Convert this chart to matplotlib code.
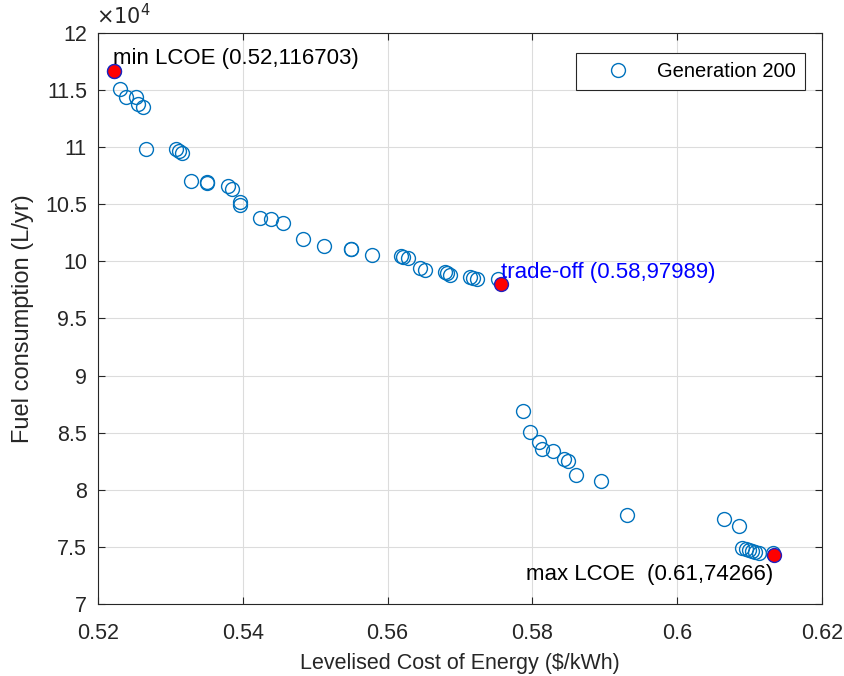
import matplotlib
matplotlib.use('Agg')
import matplotlib.pyplot as plt
from matplotlib.ticker import FuncFormatter

plt.rcParams['font.family'] = ['Liberation Sans', 'DejaVu Sans']

# Generation 200 front (LCOE $/kWh, fuel L/yr)
lcoe = [0.5222, 0.5230, 0.5239, 0.5252, 0.5255, 0.5262, 0.5266, 0.5308, 0.5312, 0.5316,
        0.5328, 0.5350, 0.5351, 0.5379, 0.5385, 0.5396, 0.5396, 0.5424, 0.5439, 0.5456,
        0.5483, 0.5512, 0.5549, 0.5549, 0.5578, 0.5618, 0.5621, 0.5628, 0.5645, 0.5651,
        0.5679, 0.5682, 0.5686, 0.5714, 0.5718, 0.5723, 0.5752,
        0.5787, 0.5797, 0.5809, 0.5813, 0.5828, 0.5843, 0.5849, 0.5860, 0.5895, 0.5930,
        0.6065, 0.6085, 0.6090, 0.6095, 0.6099, 0.6103, 0.6107, 0.6113, 0.6132]
fuel = [116703, 115070, 114420, 114420, 113760, 113490, 109870, 109840, 109690, 109470,
        107070, 106980, 106890, 106630, 106370, 105200, 104940, 103800, 103710, 103390,
        101960, 101350, 101110, 101060, 100560, 100450, 100390, 100270, 99450, 99250,
        99100, 98960, 98810, 98660, 98550, 98490, 98460,
        86900, 85060, 84190, 83570, 83400, 82700, 82550, 81300, 80800, 77770,
        77420, 76860, 74930, 74820, 74730, 74640, 74580, 74490, 74490]

# highlighted solutions
sel_x = [0.5222, 0.5757, 0.6133]
sel_y = [116703, 97989, 74266]
sel_txt = ['min LCOE (0.52,116703)', 'trade-off (0.58,97989)', 'max LCOE  (0.61,74266)']

xticks = [0.52, 0.54, 0.56, 0.58, 0.60, 0.62]
yticks = [70000, 75000, 80000, 85000, 90000, 95000, 100000, 105000, 110000, 115000, 120000]

fig = plt.figure(figsize=(8.44, 6.76), dpi=100)
ax = fig.add_axes([0.1161, 0.1065, 0.8579, 0.8447])

ax.plot(lcoe, fuel, 'o', mfc='none', mec='#0072BD', ms=10, mew=1.0, label='Generation 200')
ax.plot(sel_x, sel_y, 'o', mfc='red', mec='#2020c0', ms=10, mew=1.0)

ax.text(sel_x[0] - 0.0001, sel_y[0] + 150, sel_txt[0], fontsize=16, color='black',
        ha='left', va='bottom')
ax.text(sel_x[1] - 0.0001, sel_y[1] + 100, sel_txt[1], fontsize=16, color='blue',
        ha='left', va='bottom')
ax.text(sel_x[2], sel_y[2] - 1650, sel_txt[2], fontsize=16, color='black',
        ha='right', va='center')

ax.set_xlim(0.52, 0.62)
ax.set_ylim(70000, 120000)
ax.set_xticks(xticks)
ax.set_yticks(yticks)
ax.xaxis.set_major_formatter(FuncFormatter(lambda v, p: '%g' % round(v, 2)))
ax.yaxis.set_major_formatter(FuncFormatter(lambda v, p: '%g' % (v / 1e4)))
ax.tick_params(direction='in', top=True, right=True, length=5, labelsize=15.5,
               colors='#262626')
ax.tick_params(axis='x', pad=14)
ax.tick_params(axis='y', pad=8)
ax.grid(True, color='#dcdcdc', linewidth=0.8)
ax.set_axisbelow(True)
for s in ax.spines.values():
    s.set_color('#262626')
    s.set_linewidth(0.8)

ax.text(-0.003, 1.008, r'$\times10^4$', transform=ax.transAxes, fontsize=15,
        color='#262626', ha='left', va='bottom')

ax.set_xlabel('Levelised Cost of Energy ($/kWh)', fontsize=15.5, color='#262626', labelpad=6)
ax.set_ylabel('Fuel consumption (L/yr)', fontsize=17, color='#262626', labelpad=8)

leg = ax.legend(loc='upper right', bbox_to_anchor=(0.9765, 0.965), fontsize=14.5,
                fancybox=False, edgecolor='#262626', framealpha=1, borderpad=0.45,
                handlelength=3.3, handletextpad=0.3, borderaxespad=0)
leg.get_frame().set_linewidth(0.8)

fig.savefig('out.png', dpi=100)
